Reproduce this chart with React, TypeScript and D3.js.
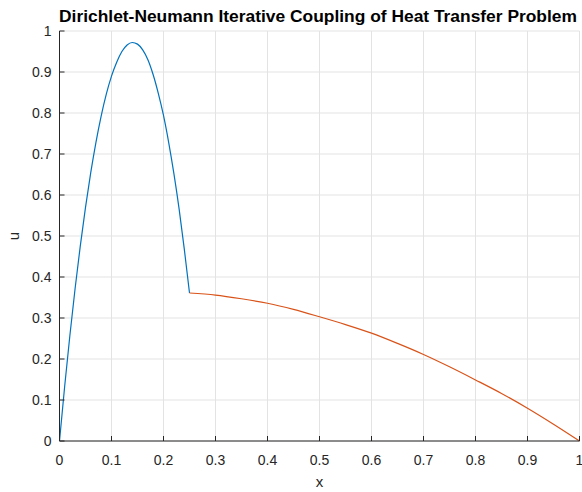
import React from "react";
import * as d3 from "d3";

const titleText = "Dirichlet-Neumann Iterative Coupling of Heat Transfer Problem";
const xTicks = [0, 0.1, 0.2, 0.3, 0.4, 0.5, 0.6, 0.7, 0.8, 0.9, 1];
const yTicks = [0, 0.1, 0.2, 0.3, 0.4, 0.5, 0.6, 0.7, 0.8, 0.9, 1];

const blueX = [0, 0.01, 0.02, 0.03, 0.04, 0.05, 0.06, 0.07, 0.08, 0.09, 0.1, 0.11, 0.12, 0.13, 0.14, 0.15, 0.16, 0.17, 0.18, 0.19, 0.2, 0.21, 0.22, 0.23, 0.24, 0.25];
const blueU = [0, 0.134, 0.258, 0.372, 0.476, 0.57, 0.654, 0.728, 0.792, 0.846, 0.89, 0.924, 0.95, 0.966, 0.972, 0.968, 0.954, 0.93, 0.894, 0.848, 0.794, 0.728, 0.652, 0.566, 0.468, 0.361];

const redX = [0.25, 0.3, 0.35, 0.4, 0.45, 0.5, 0.55, 0.6, 0.65, 0.7, 0.75, 0.8, 0.85, 0.9, 0.95, 1];
const redU = [0.361, 0.356, 0.347, 0.336, 0.321, 0.303, 0.284, 0.263, 0.238, 0.211, 0.181, 0.149, 0.116, 0.08, 0.041, 0];

const W = 582;
const H = 492;
const L = 59.5, R = 579.5, T = 31, B = 441;

export default function App() {
  const x = d3.scaleLinear().domain([0, 1]).range([L, R]);
  const y = d3.scaleLinear().domain([0, 1]).range([B, T]);
  const line = d3.line<[number, number]>().x(d => x(d[0])).y(d => y(d[1])).curve(d3.curveMonotoneX);
  const blue = blueX.map((v, i) => [v, blueU[i]] as [number, number]);
  const red = redX.map((v, i) => [v, redU[i]] as [number, number]);
  const font = "'Liberation Sans', Arial, Helvetica, sans-serif";
  const axisColor = "#262626";
  const gridColor = "#e3e3e3";
  return (
    <svg width={W} height={H} style={{ position: "absolute", left: 0, top: 0, background: "#fff" }} fontFamily={font}>
      <rect x={0} y={0} width={W} height={H} fill="#fff" />
      {xTicks.map(t => (
        <line key={"gx" + t} x1={x(t)} x2={x(t)} y1={T} y2={B} stroke={gridColor} strokeWidth={1} />
      ))}
      {yTicks.map(t => (
        <line key={"gy" + t} x1={L} x2={R} y1={y(t)} y2={y(t)} stroke={gridColor} strokeWidth={1} />
      ))}
      <path d={line(blue) || ""} fill="none" stroke="#0072BD" strokeWidth={1.2} />
      <path d={line(red) || ""} fill="none" stroke="#D95319" strokeWidth={1.2} />
      <line x1={L} x2={L} y1={T} y2={B} stroke={axisColor} strokeWidth={1} />
      <line x1={L} x2={R} y1={B} y2={B} stroke={axisColor} strokeWidth={1} />
      {xTicks.map(t => (
        <g key={"tx" + t}>
          <line x1={x(t)} x2={x(t)} y1={B} y2={B - 5} stroke={axisColor} />
          <text x={x(t)} y={B + 24} textAnchor="middle" fontSize={14} fill={axisColor}>{String(t)}</text>
        </g>
      ))}
      {yTicks.map(t => (
        <g key={"ty" + t}>
          <line x1={L} x2={L + 5} y1={y(t)} y2={y(t)} stroke={axisColor} />
          <text x={L - 8} y={y(t) + 5} textAnchor="end" fontSize={14} fill={axisColor}>{String(t)}</text>
        </g>
      ))}
      <text x={(L + R) / 2} y={491 - 4} textAnchor="middle" fontSize={15} fill={axisColor}>x</text>
      <text transform={`translate(19, ${(T + B) / 2}) rotate(-90)`} textAnchor="middle" fontSize={15} fill={axisColor}>u</text>
      <text x={318} y={22} textAnchor="middle" fontSize={17.4} fontWeight="bold" fill="#000">{titleText}</text>
    </svg>
  );
}
